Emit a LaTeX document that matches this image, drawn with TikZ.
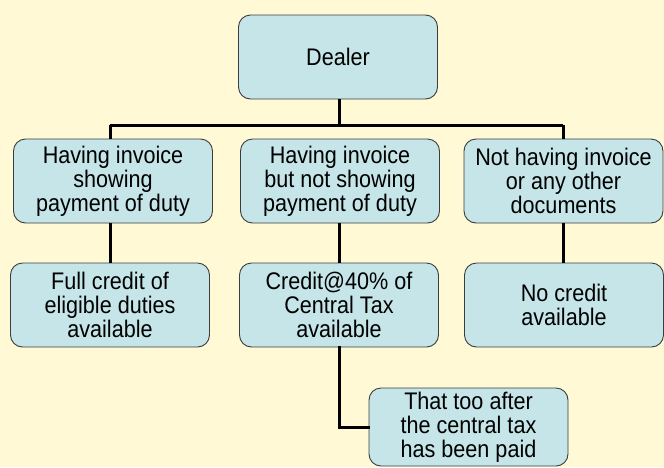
\documentclass[tikz,border=0pt]{standalone}
\usepackage{fontspec}
\setmainfont[FakeStretch=0.9]{Liberation Sans}
\definecolor{paper}{RGB}{255,249,214}
\definecolor{boxfill}{RGB}{197,229,232}
\definecolor{boxline}{RGB}{60,60,60}

\begin{document}
\begin{tikzpicture} [x = 1pt, y = -1pt,
  box/.style = {draw = boxline, fill = boxfill, line width = 0.9pt,
    rounded corners = 12pt, minimum width = 199pt, minimum height = 84pt,
    inner sep = 0pt, align = center, font = \fontsize{24}{24}\selectfont},
  link/.style = {black, line width = 3pt}]
\fill[paper] (0, 0) rectangle (664, 467);
\useasboundingbox (0, 0) rectangle (664, 467);
% top
\node[box] (dealer) at (338, 57){Dealer};
% second row
\node[box] (have1) at (113, 181){Having invoice\\showing\\payment of duty};
\node[box] (have2) at (340, 181){Having invoice\\but not showing\\payment of duty};
\node[box] (nodoc) at (563.5, 181){Not having invoice\\or any other\\documents};
% third row
\node[box] (full) at (110, 305){Full credit of\\eligible duties\\available};
\node[box] (part) at (339, 305){Credit@40\% of\\Central Tax\\available};
\node[box] (nocredit) at (564, 305){No credit\\available};
% bottom
\node[box, minimum height = 78pt] (after) at (468.5, 427){That too after\\the central tax\\has been paid};
% connectors
\coordinate (bar1) at (110, 125);
\coordinate (bar3) at (563, 125);
\draw[link] (dealer.south -| part) -- (part.north |- bar1);
\draw[link] (bar1) -- (bar3);
\draw[link] (have1.south -| full) -- (full);
\draw[link] (bar1) -- (have1.north -| bar1);
\draw[link] (bar3) -- (nodoc.north -| bar3);
\draw[link] (have2.south -| part) -- (part);
\draw[link] (nodoc.south -| bar3) -- (nocredit.north -| bar3);
\draw[link, line cap = rect] (part.south) |- (after.west);
\end{tikzpicture}
\end{document}
